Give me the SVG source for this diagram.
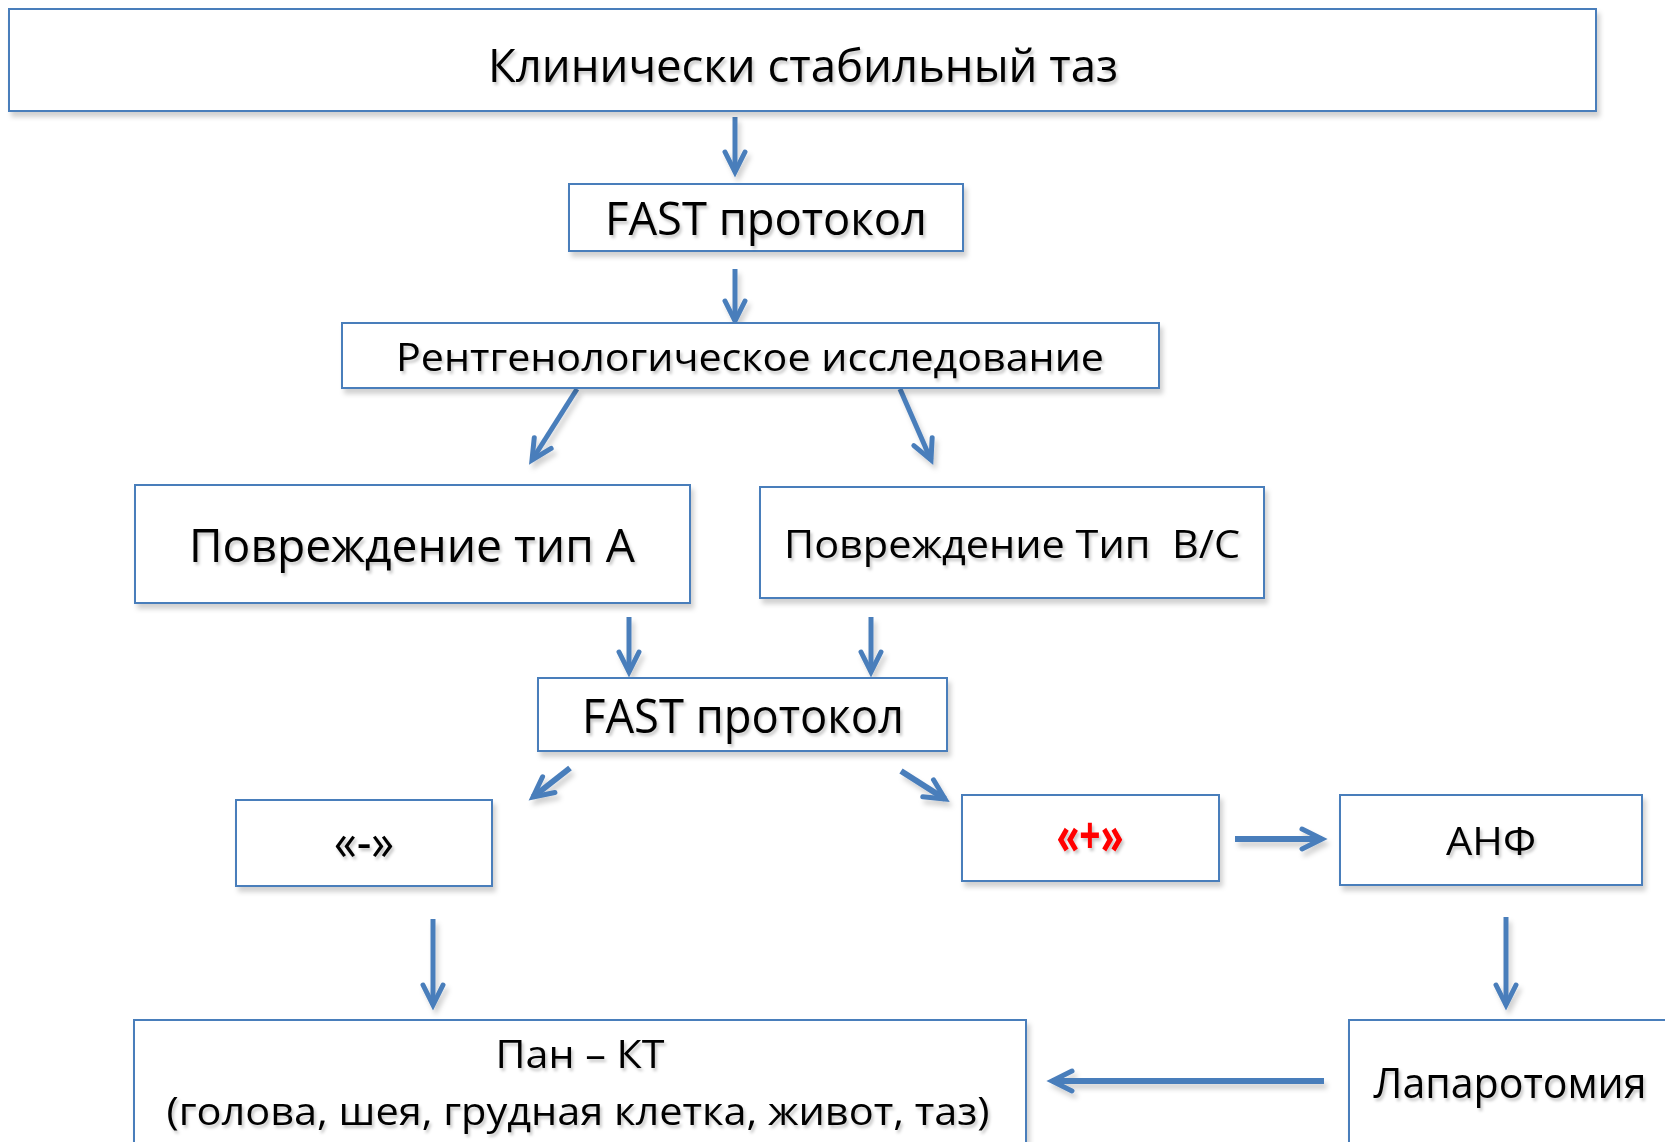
<svg xmlns="http://www.w3.org/2000/svg" width="1665" height="1142" viewBox="0 0 1665 1142">
<defs>
<filter id="sh" x="-5%" y="-5%" width="112%" height="125%">
<feDropShadow dx="3" dy="5" stdDeviation="2.5" flood-color="#000" flood-opacity="0.18"/>
</filter>
<filter id="tsh" x="-5%" y="-20%" width="110%" height="150%">
<feDropShadow dx="2" dy="3" stdDeviation="1.5" flood-color="#000" flood-opacity="0.22"/>
</filter>
<marker id="ah" viewBox="-24 -14 28 28" markerWidth="28" markerHeight="28" markerUnits="userSpaceOnUse" refX="0" refY="0" orient="auto" overflow="visible">
<path d="M-20,-10 L0,0 L-20,10" fill="none" stroke="#4A7EBB" stroke-width="5" stroke-linecap="round" stroke-linejoin="miter"/>
</marker>
</defs>
<style>
.box{fill:#fff;stroke:#4A7EBB;stroke-width:2;filter:url(#sh)}
.t{font-family:"Open Sans","Noto Sans",sans-serif;fill:#000;text-anchor:middle;filter:url(#tsh)}
.red{fill:#FF0000;font-weight:bold}
.c{stroke:#4A7EBB;stroke-width:5;fill:none;marker-end:url(#ah)}
.thick{stroke-width:6}
</style>
<rect width="1665" height="1142" fill="#fff"/>
<g id="connectors" filter="url(#sh)">
<line class="c" x1="735" y1="117" x2="735" y2="172"/>
<line class="c" x1="735" y1="269" x2="735" y2="321"/>
<line class="c" x1="577" y1="389" x2="532" y2="460"/>
<line class="c" x1="900" y1="389" x2="931" y2="460"/>
<line class="c" x1="629" y1="617" x2="629" y2="672"/>
<line class="c" x1="871" y1="617" x2="871" y2="672"/>
<line class="c thick" x1="570" y1="768" x2="533" y2="797"/>
<line class="c thick" x1="901" y1="771" x2="945" y2="799"/>
<line class="c thick" x1="1235" y1="839" x2="1322" y2="839"/>
<line class="c" x1="433" y1="919" x2="433" y2="1005"/>
<line class="c" x1="1506" y1="917" x2="1506" y2="1005"/>
<line class="c thick" x1="1324" y1="1081" x2="1052" y2="1081"/>
</g>
<g id="n1"><rect class="box" x="9" y="9" width="1587" height="102"/><text class="t" x="803" y="82" font-size="46" textLength="630" lengthAdjust="spacingAndGlyphs">Клинически стабильный таз</text></g>
<g id="n2"><rect class="box" x="569" y="184" width="394" height="67"/><text class="t" x="766" y="235" font-size="45" textLength="322" lengthAdjust="spacingAndGlyphs">FAST протокол</text></g>
<g id="n3"><rect class="box" x="342" y="323" width="817" height="65"/><text class="t" x="750" y="371" font-size="39" textLength="708" lengthAdjust="spacingAndGlyphs">Рентгенологическое исследование</text></g>
<g id="n4"><rect class="box" x="135" y="485" width="555" height="118"/><text class="t" x="412" y="562" font-size="45" textLength="446" lengthAdjust="spacingAndGlyphs">Повреждение тип А</text></g>
<g id="n5"><rect class="box" x="760" y="487" width="504" height="111"/><text class="t" x="1012" y="558" font-size="39" textLength="456" lengthAdjust="spacingAndGlyphs" xml:space="preserve">Повреждение Тип  В/С</text></g>
<g id="n6"><rect class="box" x="538" y="678" width="409" height="73"/><text class="t" x="743" y="733" font-size="47" textLength="322" lengthAdjust="spacingAndGlyphs">FAST протокол</text></g>
<g id="n7"><rect class="box" x="236" y="800" width="256" height="86"/><text class="t" x="364" y="860" font-size="52" textLength="60" lengthAdjust="spacingAndGlyphs">«-»</text></g>
<g id="n8"><rect class="box" x="962" y="795" width="257" height="86"/><text class="t red" x="1090" y="854" font-size="52" textLength="67" lengthAdjust="spacingAndGlyphs">«+»</text></g>
<g id="n9"><rect class="box" x="1340" y="795" width="302" height="90"/><text class="t" x="1491" y="855" font-size="39" textLength="90" lengthAdjust="spacingAndGlyphs">АНФ</text></g>
<g id="n10"><rect class="box" x="134" y="1020" width="892" height="140"/><text class="t" x="580" y="1068" font-size="39" textLength="169" lengthAdjust="spacingAndGlyphs">Пан – КТ</text><text class="t" x="578" y="1125" font-size="39" textLength="823" lengthAdjust="spacingAndGlyphs">(голова, шея, грудная клетка, живот, таз)</text></g>
<g id="n11"><rect class="box" x="1349" y="1020" width="340" height="140"/><text class="t" x="1510" y="1098" font-size="42" textLength="273" lengthAdjust="spacingAndGlyphs">Лапаротомия</text></g>
</svg>
